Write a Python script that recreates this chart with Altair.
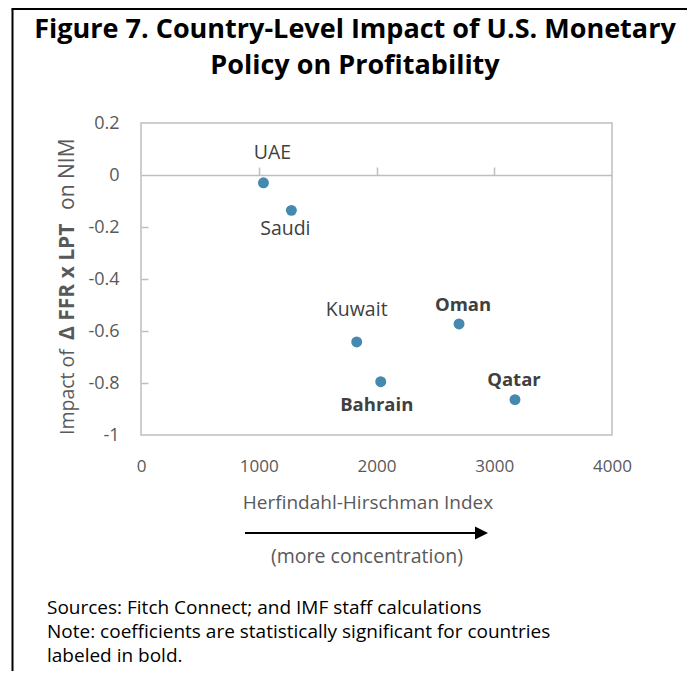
import altair as alt
import pandas as pd

# ---- data ----
countries = ["UAE", "Saudi", "Kuwait", "Bahrain", "Oman", "Qatar"]
hhi = [1040, 1277, 1832, 2036, 2701, 3176]
impact = [-0.03, -0.136, -0.642, -0.795, -0.573, -0.864]
significant = [False, False, False, True, True, True]

x_ticks = [0, 1000, 2000, 3000, 4000]
y_ticks = [0.2, 0, -0.2, -0.4, -0.6, -0.8, -1]

title_lines = ["Figure 7. Country-Level Impact of U.S. Monetary", "Policy on Profitability"]
x_title = "Herfindahl-Hirschman Index"
arrow_caption = "(more concentration)"
y_title_parts = ["Impact of", "\u0394 FFR x LPT", "on NIM"]
notes = [
    "Sources: Fitch Connect; and IMF staff calculations",
    "Note: coefficients are statistically significant for countries",
    "labeled in bold.",
]

df = pd.DataFrame({"country": countries, "hhi": hhi, "impact": impact, "sig": significant})

# ---- style ----
FONT = "Open Sans"
W, H = 471, 312
PT_COLOR = "#4589ae"
AX_GRAY = "#bfbfbf"
TXT_GRAY = "#595959"
LABEL_OFFSETS = {
    "UAE": (9, -30), "Saudi": (-6, 19), "Kuwait": (0, -32),
    "Bahrain": (-4, 23), "Oman": (4, -19), "Qatar": (-1, -20),
}

xs = alt.Scale(domain=[0, 4000], nice=False)
ys = alt.Scale(domain=[-1, 0.2], nice=False)

base = alt.Chart(df)

points = base.mark_circle(size=120, color=PT_COLOR, opacity=1).encode(
    x=alt.X("hhi:Q", scale=xs, axis=alt.Axis(
        orient="bottom", values=x_ticks, domain=False, ticks=False, tickSize=0, grid=False, format="d",
        labelFlush=False, labelOverlap=False,
        labelFont=FONT, labelFontSize=17, labelColor=TXT_GRAY, labelPadding=23, title=None)),
    y=alt.Y("impact:Q", scale=ys, axis=alt.Axis(
        orient="left", values=y_ticks, domain=False, ticks=False, tickSize=0, grid=False,
        labelFlush=False, labelOverlap=False,
        labelFont=FONT, labelFontSize=18, labelColor=TXT_GRAY, labelPadding=22, title=None,
        labelExpr="datum.value == 0 ? '0' : toString(datum.value)")),
)

zero_axis = base.mark_circle(opacity=0).encode(
    x=alt.X("hhi:Q", scale=xs, axis=alt.Axis(
        orient="top", offset=-52, values=[1000, 2000, 3000], labels=False, grid=False,
        domainColor=AX_GRAY, domainWidth=1.5, tickColor=AX_GRAY, tickWidth=1.5, tickSize=8, title=None)),
    y=alt.Y("impact:Q", scale=ys, axis=alt.Axis(
        orient="right", offset=-W, values=[-0.2, -0.4, -0.6, -0.8], labels=False, grid=False,
        domain=False, tickColor=AX_GRAY, tickWidth=1.5, tickSize=7, title=None)),
)

label_layers = []
for name, (dx, dy) in LABEL_OFFSETS.items():
    bold = bool(df.loc[df.country == name, "sig"].iloc[0])
    label_layers.append(
        base.transform_filter(alt.datum.country == name).mark_text(
            font=FONT, fontSize=18.5 if bold else 19.5, fontWeight="bold" if bold else "normal",
            color="#404040", dx=dx, dy=dy, align="center", baseline="middle",
        ).encode(
            x=alt.X("hhi:Q", scale=xs, axis=None),
            y=alt.Y("impact:Q", scale=ys, axis=None),
            text="country:N",
        )
    )

def txt(text, x, y, size, **kw):
    return alt.Chart(pd.DataFrame({"t": [text]})).mark_text(
        font=FONT, fontSize=size, baseline="middle", **kw
    ).encode(x=alt.value(x), y=alt.value(y), text="t:N")

title_layers = [
    txt(title_lines[0], 214, -93, 27, fontWeight="bold", color="#000000", align="center"),
    txt(title_lines[1], 214, -57, 27, fontWeight="bold", color="#000000", align="center"),
]

ytitle_layers = [
    txt(y_title_parts[0], -73, 312, 19.5, color=TXT_GRAY, align="left", angle=270),
    txt(y_title_parts[1], -73, 217, 21, color=TXT_GRAY, align="left", angle=270, fontWeight="bold"),
    txt(y_title_parts[2], -73, 87, 21, color=TXT_GRAY, align="left", angle=270),
]

xtitle_layers = [
    txt(x_title, 227, 380, 19, color=TXT_GRAY, align="center"),
    txt(arrow_caption, 226, 434, 19.5, color=TXT_GRAY, align="center"),
]

arrow_line = alt.Chart(pd.DataFrame({"a": [0]})).mark_rule(color="#000000", strokeWidth=2).encode(
    x=alt.value(104), x2=alt.value(338), y=alt.value(410))
arrow_head = alt.Chart(pd.DataFrame({"a": [0]})).mark_point(
    shape="M-1,-1L1,0L-1,1Z", filled=True, color="#000000", opacity=1, size=169).encode(
    x=alt.value(340.5), y=alt.value(410))

note_layers = [
    txt(notes[i], -94, 485 + 24 * i, 19, color="#000000", align="left") for i in range(3)
]

frame_left = alt.Chart(pd.DataFrame({"a": [0]})).mark_rule(color="#000000", strokeWidth=2).encode(
    x=alt.value(-128.5), y=alt.value(-114), y2=alt.value(560))
frame_top = alt.Chart(pd.DataFrame({"a": [0]})).mark_rule(color="#000000", strokeWidth=2).encode(
    x=alt.value(-129.5), x2=alt.value(560), y=alt.value(-114))

chart = alt.layer(
    zero_axis, points, *label_layers, *title_layers, *ytitle_layers, *xtitle_layers,
    arrow_line, arrow_head, *note_layers, frame_left, frame_top,
).resolve_axis(x="independent", y="independent").properties(
    width=W, height=H,
    padding={"left": 133, "top": 115, "right": 75, "bottom": 236},
    autosize=alt.AutoSizeParams(type="none"),
    background="#ffffff",
).configure_view(stroke=AX_GRAY, strokeWidth=1.5)

chart.save("out.html", embed_options={"renderer": "svg", "actions": False})
